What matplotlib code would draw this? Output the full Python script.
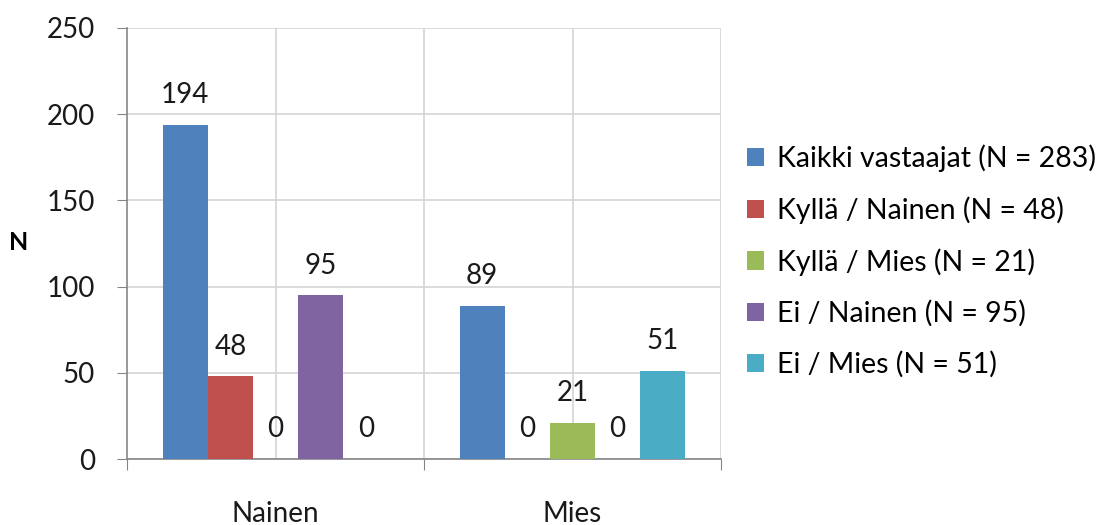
import matplotlib
matplotlib.use("Agg")
import matplotlib.pyplot as plt
import numpy as np

categories = ["Nainen", "Mies"]
series_names = ["Kaikki vastaajat (N = 283)", "Kyllä / Nainen (N = 48)",
                "Kyllä / Mies (N = 21)", "Ei / Nainen (N = 95)", "Ei / Mies (N = 51)"]
kaikki = [194, 89]
kylla_nainen = [48, 0]
kylla_mies = [0, 21]
ei_nainen = [95, 0]
ei_mies = [0, 51]
series_values = [kaikki, kylla_nainen, kylla_mies, ei_nainen, ei_mies]
colors = ["#4F81BD", "#C0504D", "#9BBB59", "#8064A2", "#4BACC6"]
y_ticks = [0, 50, 100, 150, 200, 250]

plt.rcParams['font.family'] = ['Lato', 'DejaVu Sans']

fig = plt.figure(figsize=(11.13, 5.25), dpi=100)
ax = fig.add_axes([127/1113, 1-459/525, (721-127)/1113, (459-28)/525])

x = np.arange(len(categories))
w = 0.152
for i, (name, vals, c) in enumerate(zip(series_names, series_values, colors)):
    pos = x + (i - 2) * w
    ax.bar(pos, vals, width=w, color=c, label=name, zorder=3)
    for p, v in zip(pos, vals):
        ax.annotate(str(v), (p, v), xytext=(0, 12), textcoords="offset points",
                    ha="center", va="bottom", fontsize=20, color="#1a1a1a", zorder=4)

ax.set_xlim(-0.5, 1.5)
ax.set_ylim(0, 250)
ax.set_yticks(y_ticks)
ax.tick_params(axis='y', labelsize=20, length=7, color="#868686", pad=16, labelcolor="#1a1a1a")
ax.set_xticks([-0.5, 0.5, 1.5], minor=False)
ax.set_xticklabels(["", "", ""])
ax.tick_params(axis='x', which='major', length=8, color="#868686")
ax.set_xticks(x, minor=True)
ax.set_xticklabels(categories, minor=True)
ax.tick_params(axis='x', which='minor', length=0, labelsize=20, pad=30, labelcolor="#1a1a1a")

ax.grid(axis='y', color="#d4d4d4", linewidth=1.2, zorder=0)
for gx in [0.0, 0.5, 1.0, 1.5]:
    ax.axvline(gx, color="#d4d4d4", linewidth=1.2, zorder=0)

for s in ["top", "right"]:
    ax.spines[s].set_visible(False)
for s in ["left", "bottom"]:
    ax.spines[s].set_color("#868686")
    ax.spines[s].set_linewidth(1.2)

fig.text(19/1113, 1-242/525, "N", fontsize=18, fontweight="bold", ha="center", va="center")

leg = fig.legend(loc="center left", bbox_to_anchor=(747/1113, 1-261/525), frameon=False,
                 fontsize=20.5, handlelength=0.6, handleheight=0.6, handletextpad=0.45,
                 labelspacing=0.85, borderaxespad=0, borderpad=0)

fig.savefig("out.png", dpi=100)
